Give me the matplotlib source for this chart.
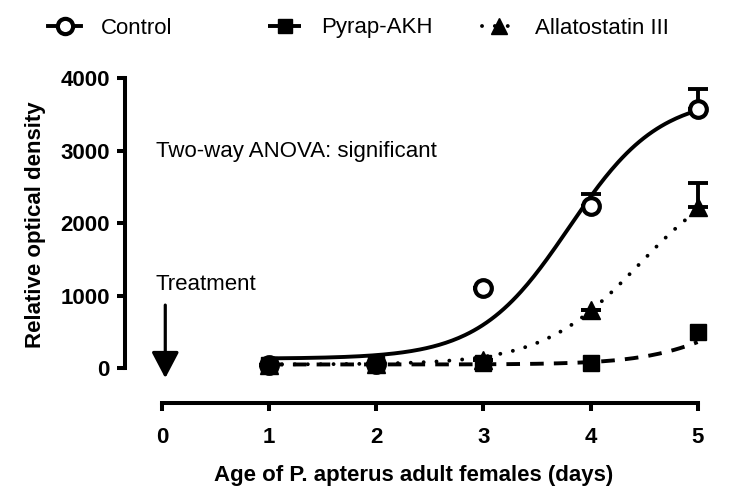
import numpy as np
import matplotlib
matplotlib.use("Agg")
import matplotlib.pyplot as plt
from matplotlib.lines import Line2D

plt.rcParams['font.family'] = ['Liberation Sans', 'DejaVu Sans']

# ---- data ----
days = [1, 2, 3, 4, 5]
control = [40, 50, 1100, 2230, 3575]
control_err_up = [0, 0, 0, 170, 275]
pyrap = [40, 50, 65, 70, 500]
allato = [40, 50, 110, 800, 2220]
allato_err_up = [0, 0, 0, 0, 330]

# fitted sigmoid parameters (bottom, top, midpoint, slope)
fit_control = dict(bottom=130, top=3750, x50=3.8, s=0.42)
fit_pyrap = dict(bottom=50, top=1200, x50=5.4, s=0.4)
fit_allato = dict(bottom=50, top=2800, x50=4.45, s=0.45)

x_ticks = [0, 1, 2, 3, 4, 5]
y_ticks = [0, 1000, 2000, 3000, 4000]
labels = ['Control', 'Pyrap-AKH', 'Allatostatin III']


def sigmoid(x, bottom, top, x50, s):
    return bottom + (top - bottom) / (1 + np.exp(-(x - x50) / s))


W, H = 748, 492
fig = plt.figure(figsize=(W / 100, H / 100), dpi=100)
ax = fig.add_axes([125 / W, 113 / H, 578 / W, 308.25 / H])
ax.set_xlim(-0.346, 5.05)
ax.set_ylim(-150, 4100)

xf = np.linspace(1, 5, 200)
lw = 2.8
dash_pat = (0, (3.5, 2.6))
dot_pat = (0, (0.01, 3.3))
ax.plot(xf, sigmoid(xf, **fit_control), color='black', lw=lw, solid_capstyle='round', zorder=2)
ax.plot(xf, sigmoid(xf, **fit_pyrap), color='black', lw=lw, ls=dash_pat, zorder=2)
ax.plot(xf, sigmoid(xf, **fit_allato), color='black', lw=lw, ls=dot_pat,
        dash_capstyle='round', zorder=2)

ms_c, ms_s, ms_t = 12, 11.5, 12.5
for vals, errs in [(control, control_err_up), (allato, allato_err_up)]:
    ax.errorbar(days, vals, yerr=[[0] * 5, errs], fmt='none', ecolor='black',
                elinewidth=2.8, capsize=7.5, capthick=2.8, zorder=3, clip_on=False)
ax.plot(days, control, 'o', ms=ms_c, mfc='white', mec='black', mew=3.0, ls='none',
        zorder=4, clip_on=False)
ax.plot(days, pyrap, 's', ms=ms_s, color='black', ls='none', zorder=5, clip_on=False)
ax.plot(days, allato, '^', ms=ms_t, color='black', ls='none', zorder=5, clip_on=False)

# spines
for sp in ['top', 'right']:
    ax.spines[sp].set_visible(False)
ax.spines['left'].set_linewidth(2.9)
ax.spines['bottom'].set_linewidth(2.9)
ax.spines['left'].set_bounds(0, 4000)
ax.spines['bottom'].set_bounds(0, 5)
ax.spines['bottom'].set_position(('outward', 17.5))
ax.set_xticks(x_ticks)
ax.set_yticks(y_ticks)
ax.tick_params(axis='both', width=2.9, length=6, labelsize=16)
ax.tick_params(axis='x', pad=11)
ax.tick_params(axis='y', pad=5)
for t in ax.get_xticklabels() + ax.get_yticklabels():
    t.set_fontweight('bold')

ax.set_ylabel('Relative optical density', fontsize=16, fontweight='bold', labelpad=10)
ax.set_xlabel('Age of P. apterus adult females (days)', fontsize=16, fontweight='bold',
              labelpad=12)

# annotations
ax.text(-0.06, 2990, 'Two-way ANOVA: significant', fontsize=16, va='center', ha='left')
ax.text(-0.06, 1150, 'Treatment', fontsize=16, va='center', ha='left')
ax.annotate('', xy=(0.03, -138), xytext=(0.03, 869),
            arrowprops=dict(arrowstyle='-|>,head_length=0.8,head_width=0.42', color='black',
                            lw=2.3, shrinkA=0, shrinkB=0, mutation_scale=20),
            annotation_clip=False)

# legend
h_control = Line2D([], [], color='black', lw=lw, marker='o', ms=ms_c - 1, mfc='white',
                   mec='black', mew=3.0)
h_pyrap = Line2D([], [], color='black', lw=lw, ls=dash_pat, marker='s', ms=ms_s - 1)
h_allato = Line2D([], [], color='black', lw=lw, ls=dot_pat, dash_capstyle='round',
                  marker='^', ms=ms_t - 1)
for h, lab, xs in [(h_control, labels[0], 48), (h_pyrap, labels[1], 268),
                   (h_allato, labels[2], 482)]:
    fig.legend([h], [lab], loc='center left', bbox_to_anchor=(xs / W, 1 - 28 / H),
               frameon=False, fontsize=16, handlelength=1.5, handletextpad=0.9,
               borderpad=0, borderaxespad=0)

fig.savefig('out.png', dpi=100)
